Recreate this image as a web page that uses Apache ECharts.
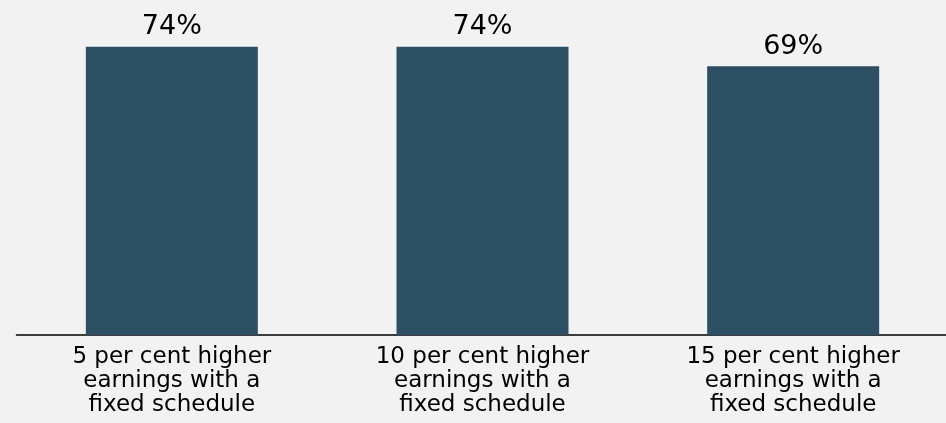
<!DOCTYPE html>
<html><head><meta charset="utf-8">
<script src="https://cdn.jsdelivr.net/npm/echarts@6/dist/echarts.min.js"></script>
<style>html,body{margin:0;padding:0;background:#f2f2f2}#c{width:946px;height:423px}</style>
</head><body><div id="c"></div>
<script>
const categories = ['5 per cent higher\nearnings with a\nfixed schedule', '10 per cent higher\nearnings with a\nfixed schedule', '15 per cent higher\nearnings with a\nfixed schedule'];
const values = [74, 74, 69];
const FONT = 'DejaVu Sans';
const chart = echarts.init(document.getElementById('c'));
chart.setOption({
  backgroundColor: '#f2f2f2',
  animation: false,
  grid: {left: 16.5, width: 932, top: 0, height: 335, outerBoundsMode: 'none', containLabel: false},
  xAxis: {
    type: 'category', data: categories,
    axisLine: {lineStyle: {color: '#000', width: 1.5}},
    axisTick: {show: false},
    axisLabel: {color: '#000', fontFamily: FONT, fontSize: 23, lineHeight: 24, margin: 10, interval: 0}
  },
  yAxis: {type: 'value', min: 0, max: 86, show: false, splitLine: {show: false}},
  series: [{
    type: 'bar', data: values, barWidth: 172,
    itemStyle: {color: '#2d4f64'},
    label: {show: true, position: 'top', formatter: '{c}%', color: '#000', fontFamily: FONT, fontSize: 27, distance: 6}
  }]
});
</script></body></html>
